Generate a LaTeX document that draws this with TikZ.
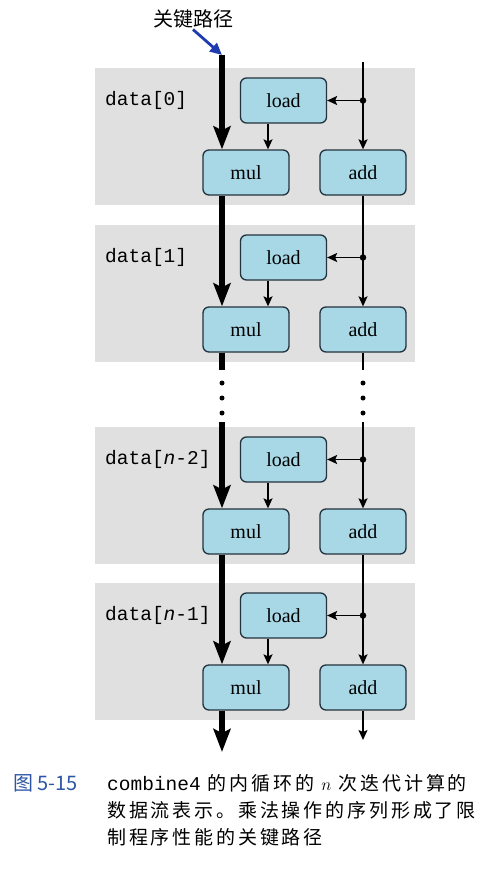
\documentclass[tikz,border=0pt]{standalone}
\usepackage{fontspec}
\setmainfont{Liberation Serif}
\setmonofont{Liberation Mono}
\newfontfamily\cjk{Noto Sans CJK SC}
\newfontfamily\cjkcap[LetterSpace=15]{Noto Sans CJK SC}
\usetikzlibrary{arrows.meta,positioning}

\definecolor{boxfill}{RGB}{168,216,230}
\definecolor{boxedge}{RGB}{35,50,60}
\definecolor{bandgray}{RGB}{224,224,224}
\definecolor{pathblue}{RGB}{30,60,175}
\definecolor{capblue}{RGB}{45,85,165}

\begin{document}
\begin{tikzpicture}[x=10pt, y=-10pt,
	band/.style={fill=bandgray, draw=none},
	opbox/.style={draw=boxedge, fill=boxfill, rounded corners=6pt, line width=1.3pt,
		minimum width=86pt, minimum height=45pt, inner sep=0pt,
		font=\fontsize{20}{22}\selectfont},
	datalbl/.style={anchor=west, inner sep=0pt, font=\ttfamily\fontsize{19.5}{21}\selectfont},
	crit/.style={line width=5.5pt, -{Stealth[length=23pt,width=17pt,inset=4pt]}},
	critline/.style={line width=5.5pt},
	flow/.style={line width=1.5pt, -{Stealth[length=10pt,width=9pt,inset=2pt]}},
	flowline/.style={line width=1.5pt},
	junc/.style={circle, fill=black, inner sep=0pt, minimum size=6.5pt},
	gapdot/.style={circle, fill=black, inner sep=0pt, minimum size=5pt},
	capline/.style={anchor=west, inner sep=0pt, font=\cjkcap\fontsize{19}{21}\selectfont}]
	\useasboundingbox (0,0) rectangle (49.5,87);

	% shaded bands, one per iteration
	\fill[band] (9.5,6.8) rectangle (41.5,20.5);
	\fill[band] (9.5,22.5) rectangle (41.5,36.2);
	\fill[band] (9.5,42.7) rectangle (41.5,56.4);
	\fill[band] (9.5,58.3) rectangle (41.5,72.0);

	% iteration 0
	\node[datalbl] (d1) at (10.5, 10.05) {data[0]};
	\node[opbox] (load1) at (28.35, 10.05) {load};
	\node[opbox] (mul1) at (24.6, 17.25) {mul};
	\node[opbox] (add1) at (36.3, 17.25) {add};
	\node[junc] (j1) at (36.3, 10.05) {};

	% iteration 1
	\node[datalbl] (d2) at (10.5, 25.75) {data[1]};
	\node[opbox] (load2) at (28.35, 25.75) {load};
	\node[opbox] (mul2) at (24.6, 32.95) {mul};
	\node[opbox] (add2) at (36.3, 32.95) {add};
	\node[junc] (j2) at (36.3, 25.75) {};

	% iteration n-2
	\node[datalbl] (d3) at (10.5, 45.95) {data[\textit{n}-2]};
	\node[opbox] (load3) at (28.35, 45.95) {load};
	\node[opbox] (mul3) at (24.6, 53.15) {mul};
	\node[opbox] (add3) at (36.3, 53.15) {add};
	\node[junc] (j3) at (36.3, 45.95) {};

	% iteration n-1
	\node[datalbl] (d4) at (10.5, 61.55) {data[\textit{n}-1]};
	\node[opbox] (load4) at (28.35, 61.55) {load};
	\node[opbox] (mul4) at (24.6, 68.75) {mul};
	\node[opbox] (add4) at (36.3, 68.75) {add};
	\node[junc] (j4) at (36.3, 61.55) {};

	\coordinate (ctop) at (22.2, 5.5);
	\coordinate (rtop) at (36.3, 6.2);
	\coordinate (lm) at (26.8, 0);
	\coordinate (cbrk) at (22.2, 37.0);
	\coordinate (cres) at (22.2, 42.2);
	\coordinate (rbrk) at (36.3, 37.0);
	\coordinate (rres) at (36.3, 42.2);
	\coordinate (cend) at (22.2, 75.2);
	\coordinate (rend) at (36.3, 74.0);

	% critical path through the mul ops
	\draw[crit] (ctop) -- (ctop |- mul1.north);
	\draw[crit] (ctop |- mul1.south) -- (ctop |- mul2.north);
	\draw[critline] (ctop |- mul2.south) -- (cbrk);
	\draw[crit] (cres) -- (ctop |- mul3.north);
	\draw[crit] (ctop |- mul3.south) -- (ctop |- mul4.north);
	\draw[crit] (ctop |- mul4.south) -- (cend);

	% pointer chain through the add ops
	\draw[flow] (rtop) -- (add1.north);
	\draw[flow] (add1.south) -- (add2.north);
	\draw[flowline] (add2.south) -- (rbrk);
	\draw[flow] (rres) -- (add3.north);
	\draw[flow] (add3.south) -- (add4.north);
	\draw[flow] (add4.south) -- (rend);

	% loads
	\draw[flow] (j1) -- (load1.east);
	\draw[flow] (j2) -- (load2.east);
	\draw[flow] (j3) -- (load3.east);
	\draw[flow] (j4) -- (load4.east);
	\draw[flow] (lm |- load1.south) -- (lm |- mul1.north);
	\draw[flow] (lm |- load2.south) -- (lm |- mul2.north);
	\draw[flow] (lm |- load3.south) -- (lm |- mul3.north);
	\draw[flow] (lm |- load4.south) -- (lm |- mul4.north);

	% skipped iterations
	\node[gapdot] (cd1) at (22.2, 38.3) {};
	\node[gapdot] (cd2) at (22.2, 39.8) {};
	\node[gapdot] (cd3) at (22.2, 41.3) {};
	\node[gapdot] (rd1) at (36.3, 38.3) {};
	\node[gapdot] (rd2) at (36.3, 39.8) {};
	\node[gapdot] (rd3) at (36.3, 41.3) {};

	% label of the critical path
	\node[font=\cjk\fontsize{20}{22}\selectfont, inner sep=1pt] (clabel) at (19.3, 1.9) {关键路径};
	\draw[pathblue, line width=2.8pt, -{Triangle[length=12pt,width=11pt]}] (clabel.south) -- (ctop);

	% caption
	\node[anchor=west, inner sep=0pt, text=capblue, font=\cjk\fontsize{20}{22}\selectfont] (fig) at (1.3, 78.3) {图 5-15};
	\node[capline] (cap1) at (10.7, 78.3) {{\ttfamily\fontsize{19.5}{21}\selectfont combine4} 的内循环的 $n$ 次迭代计算的};
	\node[capline] (cap2) at (10.7, 81.0) {数据流表示。乘法操作的序列形成了限};
	\node[capline] (cap3) at (10.7, 83.7) {制程序性能的关键路径};
\end{tikzpicture}
\end{document}
